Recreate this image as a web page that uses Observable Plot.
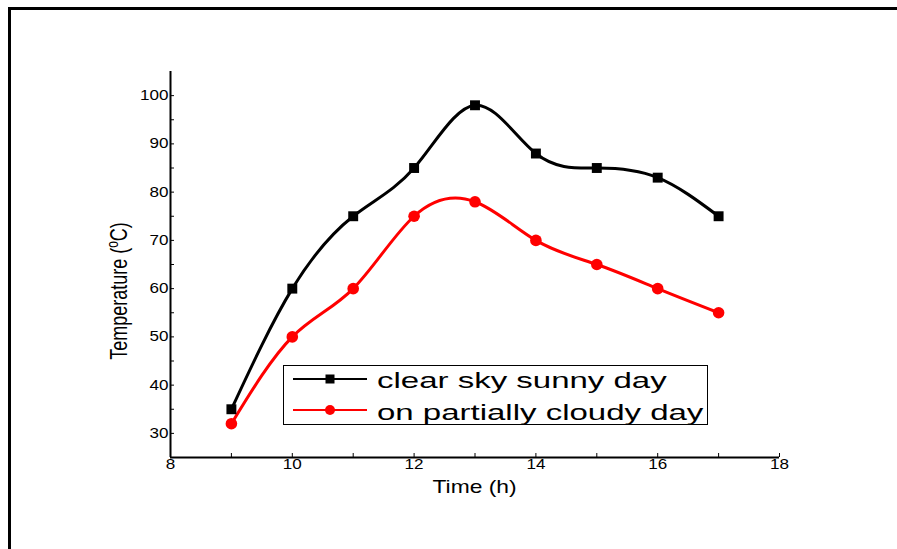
<!DOCTYPE html>
<html><head><meta charset="utf-8">
<script src="https://cdn.jsdelivr.net/npm/d3@7"></script>
<script src="https://cdn.jsdelivr.net/npm/@observablehq/plot@0.6"></script>
<style>
html,body{margin:0;padding:0;background:#fff;}
#wrap{position:relative;width:897px;height:549px;overflow:hidden;font-family:Arial,"Liberation Sans",sans-serif;}
#wrap > svg{position:absolute;left:0;top:0;}
#frame{position:absolute;left:8px;top:7px;width:900px;height:560px;border-top:3px solid #000;border-left:3px solid #000;}
</style></head><body><div id="wrap"><div id="frame"></div></div>
<script>
const hours = [9, 10, 11, 12, 13, 14, 15, 16, 17];
const clearSky = [35, 60, 75, 85, 98, 88, 85, 83, 75];
const cloudy = [32, 50, 60, 75, 78, 70, 65, 60, 55];
const seriesNames = ["clear sky sunny day", "on partially cloudy day"];
const seriesColors = ["#000000", "#ff0000"];
const seriesSymbols = ["square", "circle"];
const xTicks = [8, 10, 12, 14, 16, 18];
const xMinorTicks = [8, 9, 10, 11, 12, 13, 14, 15, 16, 17, 18];
const yTicks = [30, 40, 50, 60, 70, 80, 90, 100];
const yMinorTicks = [30, 35, 40, 45, 50, 55, 60, 65, 70, 75, 80, 85, 90, 95, 100];
const xLabel = "Time (h)";
const yLabelMain = "Temperature (";
const yLabelSup = "o";
const yLabelEnd = "C)";

const data = [];
hours.forEach((h, i) => {
  data.push({h, t: clearSky[i], s: seriesNames[0]});
  data.push({h, t: cloudy[i], s: seriesNames[1]});
});
const sunny = data.filter(d => d.s === seriesNames[0]);
const cloud = data.filter(d => d.s === seriesNames[1]);

const plot = Plot.plot({
  width: 897, height: 549,
  marginLeft: 170, marginRight: 118, marginTop: 71, marginBottom: 92,
  style: {background: "transparent", fontFamily: "Arial, 'Liberation Sans', sans-serif", fontSize: "14px", color: "#000"},
  x: {domain: [8, 18]},
  y: {domain: [25, 105]},
  color: {domain: seriesNames, range: seriesColors},
  marks: [
    Plot.axisX(xMinorTicks, {tickSize: -4, text: null, label: null}),
    Plot.axisX(xTicks, {tickSize: 0, tickPadding: 2, label: null, fill: "#000"}),
    Plot.axisY(yMinorTicks, {tickSize: -4, text: null, label: null}),
    Plot.axisY(yTicks, {tickSize: 0, tickPadding: 2, label: null, fill: "#000"}),
    Plot.ruleX([8], {strokeWidth: 2}),
    Plot.ruleY([25], {strokeWidth: 2}),
    Plot.line(data, {x: "h", y: "t", z: "s", stroke: "s", curve: "natural", strokeWidth: 3}),
    Plot.dot(sunny, {x: "h", y: "t", fill: "s", symbol: seriesSymbols[0], r: 5.6, stroke: null}),
    Plot.dot(cloud, {x: "h", y: "t", fill: "s", symbol: seriesSymbols[1], r: 5.8, stroke: null})
  ]
});

// horizontal stretch of text, as in the reference image
function stretch(el, sx) {
  const tr = el.getAttribute("transform");
  if (tr) {
    el.setAttribute("transform", tr + ` scale(${sx},1)`);
  } else {
    const x = +el.getAttribute("x") || 0, y = +el.getAttribute("y") || 0;
    el.removeAttribute("x"); el.removeAttribute("y");
    el.setAttribute("transform", `translate(${x},${y}) scale(${sx},1)`);
  }
}
plot.querySelectorAll("g[aria-label='x-axis tick label'] text, g[aria-label='y-axis tick label'] text").forEach(t => stretch(t, 1.22));

const svg = d3.select(plot);
const xs = plot.scale("x");
const xCenter = (xs.apply(8) + xs.apply(18)) / 2;
svg.append("text")
  .attr("transform", `translate(${xCenter},493) scale(1.29,1)`)
  .attr("text-anchor", "middle")
  .attr("font-size", 17.7)
  .attr("fill", "#000")
  .text(xLabel);

const yl = svg.append("text")
  .attr("transform", `translate(127,291) rotate(-90) scale(1,1.35)`)
  .attr("text-anchor", "middle")
  .attr("font-size", 18)
  .attr("fill", "#000");
yl.append("tspan").text(yLabelMain);
yl.append("tspan").attr("font-size", 12).attr("dy", -7).text(yLabelSup);
yl.append("tspan").attr("dy", 7).text(yLabelEnd);

document.getElementById("wrap").appendChild(plot);

// legend
const lg = d3.select("#wrap").append("svg")
  .style("position", "absolute").style("left", "283px").style("top", "365px")
  .attr("width", 428).attr("height", 66).style("overflow", "visible");
lg.append("rect").attr("x", 0.5).attr("y", 0.5).attr("width", 424).attr("height", 59)
  .attr("fill", "#fff").attr("stroke", "#000").attr("stroke-width", 1);
const rowY = [14, 45];
const baseY = [23, 55];
seriesNames.forEach((name, i) => {
  lg.append("line").attr("x1", 10).attr("x2", 84).attr("y1", rowY[i]).attr("y2", rowY[i])
    .attr("stroke", seriesColors[i]).attr("stroke-width", 2);
  if (seriesSymbols[i] === "square") {
    lg.append("rect").attr("x", 47 - 4.5).attr("y", rowY[i] - 4.5).attr("width", 9).attr("height", 9).attr("fill", seriesColors[i]);
  } else {
    lg.append("circle").attr("cx", 47).attr("cy", rowY[i]).attr("r", 5).attr("fill", seriesColors[i]);
  }
  lg.append("text")
    .attr("transform", `translate(94,${baseY[i]}) scale(1.5,1)`)
    .attr("font-family", "Arial, 'Liberation Sans', sans-serif")
    .attr("font-size", 22).attr("fill", "#000")
    .text(name);
});
</script></body></html>
